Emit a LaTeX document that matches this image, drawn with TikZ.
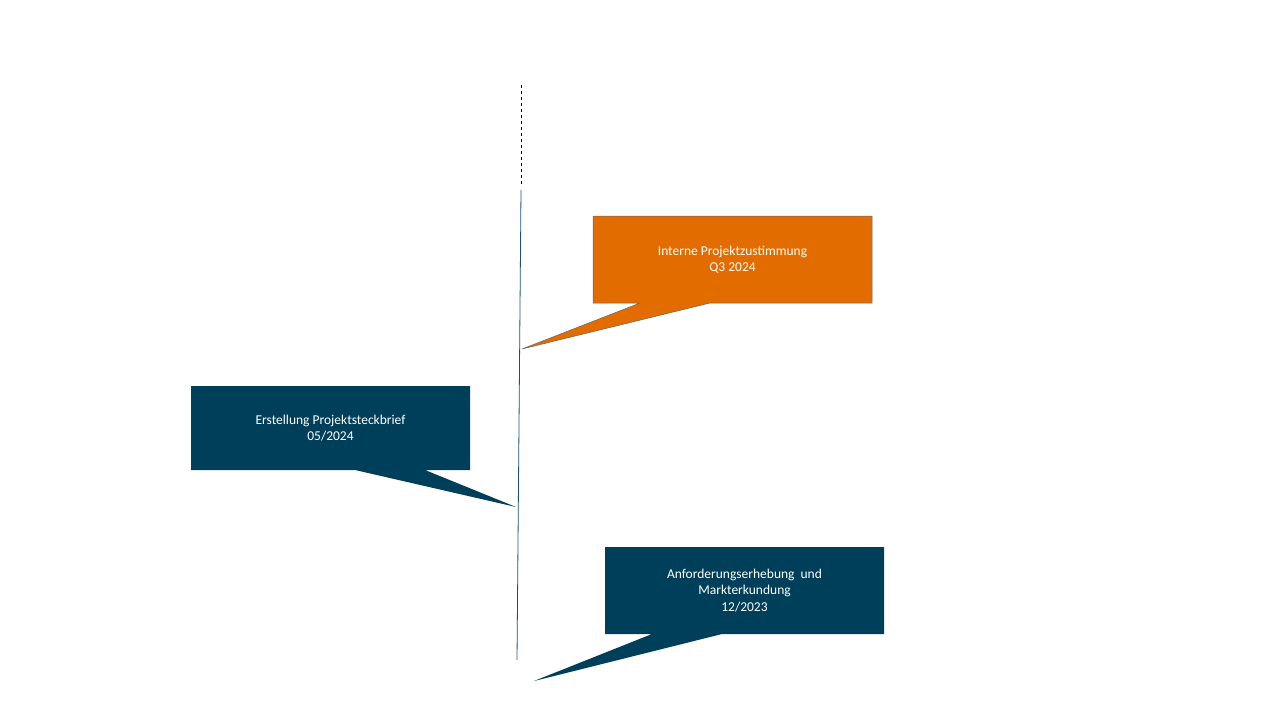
\documentclass[tikz,border=0pt]{standalone}
\usepackage{fontspec}
\setmainfont{Carlito}
\definecolor{navy}{HTML}{003F5A}
\definecolor{orng}{HTML}{E36C00}
\definecolor{linec}{HTML}{1F4E79}
\tikzset{x=1pt,y=-1pt,
 callout/.style={draw=gray!80!black,line width=0.5pt},
 lbl/.style={text=white,align=center,font=\fontsize{13.5}{16.5}\selectfont}}
\begin{document}
\begin{tikzpicture}
\useasboundingbox (0,0) rectangle (1280,720);
\coordinate (t0) at (521,85); \coordinate (t1) at (521,185);
\coordinate (s0) at (521,190); \coordinate (s1) at (517,660);
\draw[black,dashed,line width=0.5pt] (t0)--(t1);
\draw[linec,line width=0.8pt] (s0)--(s1);
% callout 1
\fill[orng,callout] (593,216)--(872,216)--(872,303)--(710,303)--(522,349)--(640,303)--(593,303)--cycle;
\node[lbl] (c1) at (732.5,259.5) {Interne Projektzustimmung\\Q3 2024};
% callout 2
\fill[navy] (191,386)--(470,386)--(470,470)--(425,470)--(516,507)--(355,470)--(191,470)--cycle;
\node[lbl] (c2) at (330.5,428) {Erstellung Projektsteckbrief\\05/2024};
% callout 3
\fill[navy] (605,547)--(884,547)--(884,634)--(722,634)--(534,681)--(652,634)--(605,634)--cycle;
\node[lbl] (c3) at (744.5,590.5) {Anforderungserhebung\ \ und\\Markterkundung\\12/2023};
\end{tikzpicture}
\end{document}
